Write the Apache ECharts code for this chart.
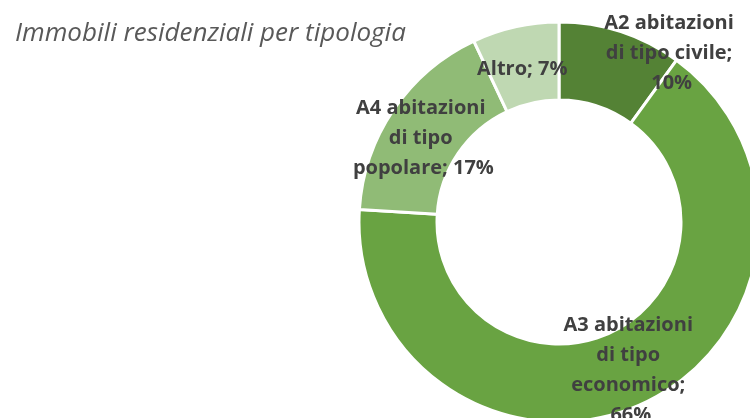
<html lang="it">
  <head>
    <meta charset="UTF-8" />
    <title>Immobili residenziali per tipologia</title>
  </head>
  <body style="margin: 0">
    <div id="main" style="width: 750px; height: 418px"></div>

    <script src="https://cdn.jsdelivr.net/npm/echarts@6/dist/echarts.min.js"></script>
    <script>
      // dati
      const categories = [
        'A2 abitazioni di tipo civile',
        'A3 abitazioni di tipo economico',
        'A4 abitazioni di tipo popolare',
        'Altro'
      ]
      const values = [10, 66, 17, 7]
      const colors = ['#548235', '#69a342', '#90bb76', '#bfd8b2']
      // larghezza di a capo delle etichette
      const labelWidths = [136, 138, 147, 200]
      // spostamento etichette rispetto alla posizione "inside"
      const labelNudge = [[62, -13], [2, 0], [0, 8], [-1, 7]]

      const option = {
        backgroundColor: '#fff',
        title: {
          text: 'Immobili residenziali per tipologia',
          left: 10,
          top: 16,
          textStyle: {
            fontFamily: 'Open Sans',
            fontStyle: 'italic',
            fontWeight: 'normal',
            fontSize: 26,
            color: '#595959'
          }
        },
        series: [
          {
            type: 'pie',
            center: [559, 222],
            radius: [122, 200],
            startAngle: 90,
            clockwise: true,
            avoidLabelOverlap: false,
            itemStyle: { borderColor: '#fff', borderWidth: 3 },
            label: {
              position: 'inside',
              fontFamily: 'Open Sans',
              fontWeight: 'bold',
              fontSize: 20,
              lineHeight: 30,
              color: '#404040',
              align: 'center',
              overflow: 'break',
              formatter: (p) => p.name + '; ' + p.value + '%'
            },
            labelLayout(p) {
              const n = labelNudge[p.dataIndex]
              return { dx: n[0], dy: n[1] }
            },
            emphasis: { disabled: true },
            data: categories.map((name, i) => ({
              name,
              value: values[i],
              itemStyle: { color: colors[i] },
              label: { width: labelWidths[i] }
            }))
          }
        ]
      }
      echarts.init(document.querySelector('#main')).setOption(option)
    </script>
  </body>
</html>
